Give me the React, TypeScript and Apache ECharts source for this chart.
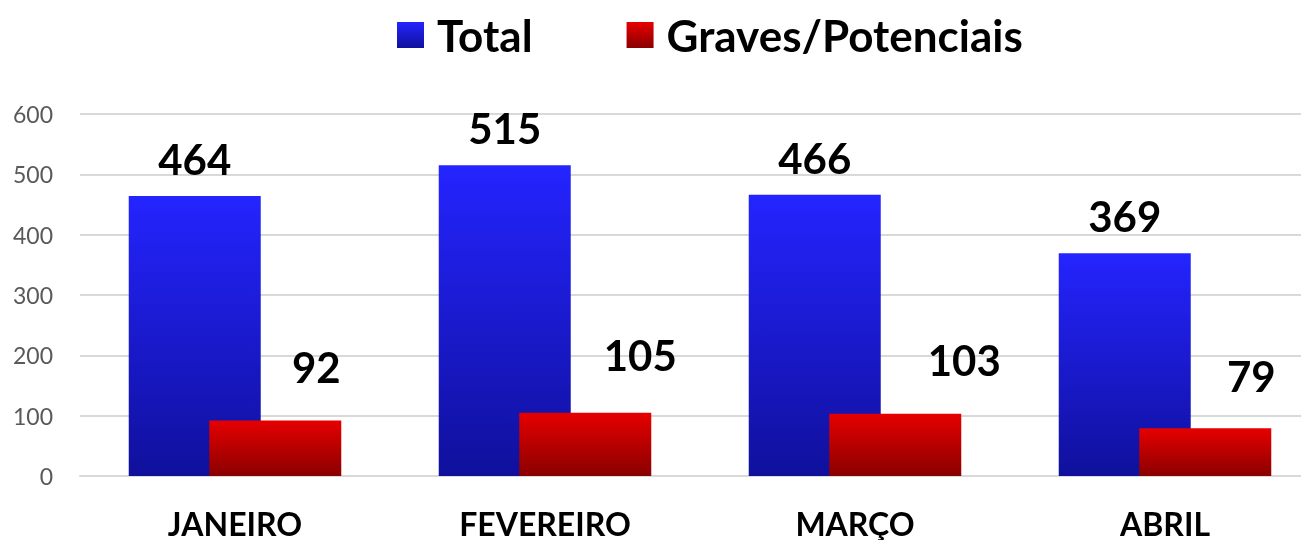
import React, { useEffect, useRef } from "react";
import * as echarts from "echarts";

const categories = ["JANEIRO", "FEVEREIRO", "MARÇO", "ABRIL"];
const totalValues = [464, 515, 466, 369];
const gravesValues = [92, 105, 103, 79];
const yTicks = [0, 100, 200, 300, 400, 500, 600];
const redLabelOffsets = [[41, -16], [55, -21], [69, -17], [46, -15]];

const FONT = "Lato, 'Open Sans', sans-serif";

export default function App() {
  const ref = useRef<HTMLDivElement>(null);
  useEffect(() => {
    const chart = echarts.init(ref.current!, null, { renderer: "svg" });
    chart.setOption({
      animation: false,
      legend: {
        top: 8,
        left: 392,
        icon: "rect",
        itemWidth: 27,
        itemHeight: 26,
        itemGap: 94,
        textStyle: {
          fontFamily: FONT,
          fontSize: 44,
          fontWeight: "bold",
          color: "#000",
          padding: [0, 0, 0, 8],
        },
        data: ["Total", "Graves/Potenciais"],
      },
      grid: { left: 80, right: 0, top: 114, bottom: 64, containLabel: false },
      xAxis: {
        type: "category",
        data: categories,
        axisLine: { show: true, lineStyle: { color: "#d9d9d9", width: 2 } },
        axisTick: { show: false },
        axisLabel: {
          fontFamily: FONT,
          fontSize: 32,
          lineHeight: 32,
          fontWeight: "bold",
          color: "#000",
          margin: 31,
        },
      },
      yAxis: {
        type: "value",
        min: yTicks[0],
        max: yTicks[yTicks.length - 1],
        interval: 100,
        axisLine: { show: false },
        axisTick: { show: false },
        splitLine: { lineStyle: { color: "#d9d9d9", width: 2 } },
        axisLabel: { fontFamily: FONT, fontSize: 23, color: "#595959", margin: 27 },
      },
      series: [
        {
          name: "Total",
          type: "bar",
          data: totalValues,
          barWidth: 132,
          barGap: "-39%",
          itemStyle: {
            color: new echarts.graphic.LinearGradient(0, 0, 0, 1, [
              { offset: 0, color: "#2424ff" },
              { offset: 1, color: "#10109c" },
            ]),
          },
          label: {
            show: true,
            position: "top",
            distance: 16,
            fontFamily: FONT,
            fontSize: 42,
            fontWeight: "bold",
            color: "#000",
          },
        },
        {
          name: "Graves/Potenciais",
          type: "bar",
          barWidth: 132,
          data: gravesValues.map((v, i) => ({
            value: v,
            label: { offset: redLabelOffsets[i] },
          })),
          itemStyle: {
            color: new echarts.graphic.LinearGradient(0, 0, 0, 1, [
              { offset: 0, color: "#e60000" },
              { offset: 1, color: "#8a0000" },
            ]),
          },
          label: {
            show: true,
            position: "top",
            distance: 16,
            fontFamily: FONT,
            fontSize: 42,
            fontWeight: "bold",
            color: "#000",
          },
        },
      ],
    });
    return () => chart.dispose();
  }, []);
  return (
    <div style={{ position: "fixed", left: 0, top: 0, width: 1301, height: 540, overflow: "hidden" }}>
      <div ref={ref} style={{ width: 1320, height: 540 }} />
    </div>
  );
}
